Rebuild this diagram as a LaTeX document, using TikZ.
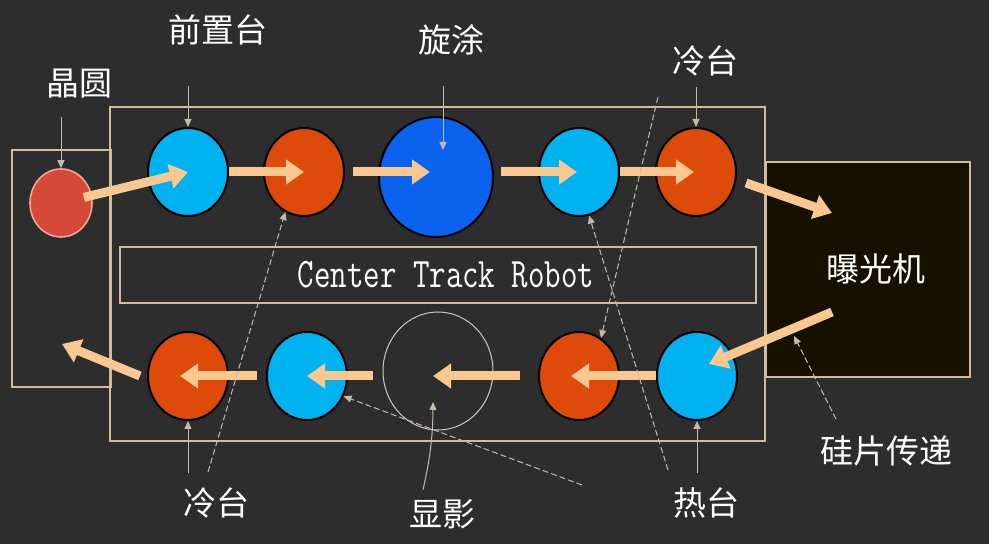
\documentclass[tikz,border=0pt]{standalone}
\usepackage{fontspec}
\newfontfamily\cjk{Noto Sans CJK SC}
\usetikzlibrary{shapes.geometric,arrows.meta,calc}

\definecolor{bg}{HTML}{2D2D2D}
\definecolor{frameline}{HTML}{D2BC9C}
\definecolor{flowpeach}{HTML}{F8C890}
\definecolor{pointgray}{HTML}{C4BAAA}
\definecolor{coolblue}{HTML}{00B2F0}
\definecolor{hotorange}{HTML}{DE4A0A}
\definecolor{coatblue}{HTML}{0A62EE}
\definecolor{waferred}{HTML}{D64838}
\definecolor{waferedge}{HTML}{E8A898}
\definecolor{expofill}{HTML}{151000}

\tikzstyle{frame}=[draw=frameline,line width=0.8pt]
\tikzstyle{station}=[ellipse,draw=black,line width=1pt,inner sep=0pt,minimum width=40pt,minimum height=44pt]
\tikzstyle{cool}=[station,fill=coolblue]
\tikzstyle{hot}=[station,fill=hotorange]
\tikzstyle{flow}=[draw=flowpeach,line width=4.5pt,-{Triangle[length=9pt,width=12pt]}]
\tikzstyle{pointer}=[draw=pointgray,line width=0.5pt,-{Triangle[length=4pt,width=3.5pt]}]
\tikzstyle{hint}=[pointer,dash pattern=on 3pt off 1.5pt]
\tikzstyle{cjktext}=[text=white,font=\cjk\fontsize{16.5pt}{16.5pt}\selectfont,inner sep=0pt]

\begin{document}
\begin{tikzpicture}[x=0.5pt,y=-0.5pt,>=latex]
	\fill[bg] (0,0) rectangle (989,544);
	\useasboundingbox (0,0) rectangle (989,544);

	% Frames
	\draw[frame] (12,150) rectangle (111,387);
	\draw[frame] (110,107) rectangle (765,441);
	\node[frame,fill=expofill,minimum width=102pt,minimum height=107.5pt,inner sep=0pt] (expo) at (868,269.5) {};
	\node[frame,minimum width=318pt,minimum height=28pt,inner sep=0pt,text=white,font=\ttfamily\fontsize{20pt}{20pt}\selectfont] (robot) at (438,275) {\hspace*{8pt}\raisebox{-2pt}{\scalebox{0.8}[1.05]{Center Track Robot}}};

	% Stations
	\node[station,fill=waferred,draw=waferedge,line width=0.8pt,minimum width=31pt,minimum height=34pt] (wafer) at (61,203) {};
	\node[cool] (pre) at (188,172) {};
	\node[hot] (hotA) at (304,172) {};
	\node[station,fill=coatblue,minimum width=57pt,minimum height=60pt] (coat) at (436,177) {};
	\node[cool] (coolA) at (579,172) {};
	\node[hot] (hotB) at (696,172) {};

	\node[cool] (coolB) at (697,376) {};
	\node[hot] (hotC) at (579,376) {};
	\node[station,draw=pointgray!80,line width=0.5pt,minimum width=55pt,minimum height=59pt] (dev) at (438,371) {};
	\node[cool] (coolC) at (307,376) {};
	\node[hot] (hotD) at (188,376) {};

	% Labels
	\node[cjktext] (lWafer) at (79,84) {晶圆};
	\node[cjktext] (lPre) at (218,30) {前置台};
	\node[cjktext] (lCoat) at (451,40) {旋涂};
	\node[cjktext] (lCoolTop) at (705,61) {冷台};
	\node[cjktext] (lExpo) at (876,269) {曝光机};
	\node[cjktext] (lCoolBot) at (216,503) {冷台};
	\node[cjktext] (lDev) at (442,514) {显影};
	\node[cjktext] (lHot) at (706,503) {热台};
	\node[cjktext] (lTransfer) at (886,451) {硅片传递};

	\coordinate (expIn) at (832,213);
	\coordinate (expOut) at (832,312);
	\coordinate (waferOut) at (62,344);
	\coordinate (coatTip) at (443,150);
	\coordinate (coolBotTail) at (208,472);
	\coordinate (hotTail) at (668,470);
	\coordinate (coolTopTail) at (658,97);
	\coordinate (devTail) at (582,485);
	\coordinate (devMidTail) at (423,490);
	\coordinate (devTip) at (433,402);
	\coordinate (transferTail) at (836,419);
	\coordinate (transferTip) at (794,336);

	% Wafer flow, top row
	\draw[flow] ($(wafer)!0.18!(pre)$) -- (pre.center);
	\draw[flow] (pre.east) -- (hotA.center);
	\draw[flow] ([xshift=4pt]hotA.east) -- ([xshift=-3pt]coat.center |- hotA);
	\draw[flow] ([xshift=3.5pt]coat.east |- coolA) -- ([xshift=-1pt]coolA.center);
	\draw[flow] (coolA.east) -- ([xshift=-1pt]hotB.center);
	\draw[flow] ($(hotB.east)+(9,11)$) -- (expIn);

	% Wafer flow, bottom row
	\draw[flow] (expOut) -- ($(coolB.center)+(12,-12)$);
	\draw[flow] (coolB.west) -- ([xshift=-4pt]hotC.center);
	\draw[flow] ([xshift=-9pt]hotC.west) -- ([xshift=-2.5pt]dev.center |- hotC);
	\draw[flow] ([xshift=-5pt]dev.west |- coolC) -- (coolC.center);
	\draw[flow] ([xshift=-4.5pt]coolC.west) -- ([xshift=-4pt]hotD.center);
	\draw[flow] ([xshift=-3.5pt]hotD.west) -- (waferOut);

	% Pointers
	\draw[pointer,shorten <=9pt] (lWafer.south -| wafer.north) -- (wafer.north);
	\draw[pointer,shorten <=20pt] (lPre.south -| pre.north) -- (pre.north);
	\draw[pointer,shorten <=15pt] (lCoat.south -| coatTip) -- (coatTip);
	\draw[pointer,shorten <=5pt] (lCoolTop.south -| hotB.north) -- (hotB.north);
	\draw[pointer,shorten <=7pt] (lCoolBot.north -| hotD.south) -- (hotD.south);
	\draw[pointer,shorten <=7pt] (lHot.north -| coolB.south) -- (coolB.south);
	\draw[pointer] (devMidTail) to[bend right=6] (devTip);

	\draw[hint] (coolBotTail) -- (hotA.-115);
	\draw[hint] (hotTail) -- (coolA.-77);
	\draw[hint] (coolTopTail) -- (hotC.60);
	\draw[hint] (devTail) -- (coolC.-29);
	\draw[hint] (transferTail) -- (transferTip);
\end{tikzpicture}
\end{document}
